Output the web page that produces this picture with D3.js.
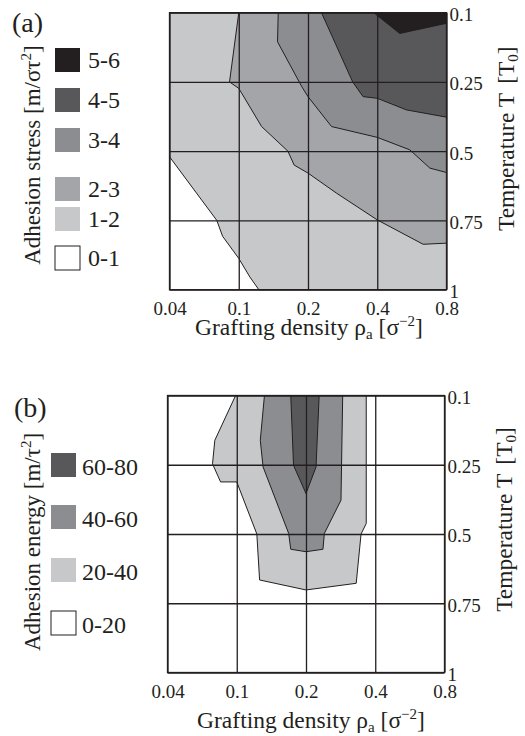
<!DOCTYPE html>
<html>
<head>
<meta charset="utf-8">
<script src="https://cdn.jsdelivr.net/npm/d3@7"></script>
<style>
  body { margin: 0; background: #fff; }
  svg { display: block; }
  text { font-family: "Liberation Serif", "Times New Roman", serif !important; fill: #231f20; }
</style>
</head>
<body>
<svg id="fig" width="525" height="736"></svg>
<script>
// axes: grafting density (bottom) and temperature (right), evenly spaced ticks
const densityValues = [0.04, 0.1, 0.2, 0.4, 0.8];
const densityTicks = ['0.04', '0.1', '0.2', '0.4', '0.8'];
const tempValues = [0.1, 0.25, 0.5, 0.75, 1];
const tempTicks = ['0.1', '0.25', '0.5', '0.75', '1'];

// (a) adhesion stress: region where stress >= level, as [rho, T] outlines
const stressLevels = ['5-6', '4-5', '3-4', '2-3', '1-2', '0-1'];
const stressAbove1 = [[0.04, 0.1], [0.8, 0.1], [0.8, 1], [0.129, 1], [0.116, 0.954], [0.1, 0.887],
  [0.086, 0.807], [0.081, 0.75], [0.04, 0.52]];
const stressAbove2 = [[0.1, 0.1], [0.092, 0.25], [0.1, 0.273], [0.133, 0.411], [0.171, 0.5], [0.18, 0.55],
  [0.2, 0.579], [0.283, 0.652], [0.4, 0.748], [0.665, 0.836], [0.8, 0.832], [0.8, 0.1]];
const stressAbove3 = [[0.157, 0.1], [0.156, 0.163], [0.191, 0.267], [0.2, 0.303], [0.268, 0.411], [0.4, 0.45],
  [0.588, 0.495], [0.704, 0.561], [0.8, 0.577], [0.8, 0.1]];
const stressAbove4 = [[0.239, 0.1], [0.329, 0.25], [0.359, 0.303], [0.4, 0.309], [0.569, 0.351], [0.8, 0.377], [0.8, 0.1]];
const stressAbove5 = [[0.39, 0.1], [0.53, 0.145], [0.8, 0.123], [0.8, 0.1]];

// (b) adhesion energy
const energyLevels = ['60-80', '40-60', '20-40', '0-20'];
const energyAbove20 = [[0.099, 0.1], [0.081, 0.197], [0.079, 0.248], [0.086, 0.312], [0.1, 0.312], [0.129, 0.5],
  [0.133, 0.666], [0.2, 0.702], [0.345, 0.678], [0.359, 0.5], [0.374, 0.462], [0.374, 0.1]];
const energyAbove40 = [[0.14, 0.1], [0.134, 0.197], [0.138, 0.258], [0.175, 0.498], [0.178, 0.555], [0.2, 0.564],
  [0.249, 0.555], [0.253, 0.498], [0.301, 0.378], [0.306, 0.1]];
const energyAbove60 = [[0.178, 0.1], [0.182, 0.252], [0.2, 0.354], [0.229, 0.258], [0.238, 0.1]];

const ink = '#231f20';
const serif = '"Liberation Serif", "Times New Roman", serif';
const grays = { l6: '#231f20', l5: '#58585a', l4: '#8c8d90', l3: '#a4a5a8', l2: '#c7c8ca', l1: '#ffffff' };

const svg = d3.select('#fig');

function drawPanel(opt) {
  const size = 277;
  const g = svg.append('g').attr('transform', `translate(${opt.left},${opt.top})`);

  const x = d3.scaleLinear().domain(densityValues).range(densityValues.map((d, i) => i * size / 4));
  const y = d3.scaleLinear().domain(tempValues).range(tempValues.map((d, i) => i * size / 4));
  const line = d3.line().x(d => x(d[0])).y(d => y(d[1]));

  g.append('rect').attr('width', size).attr('height', size).attr('fill', '#fff');

  g.selectAll('path.region')
    .data(opt.regions)
    .join('path')
    .attr('class', 'region')
    .attr('d', d => line(d.pts) + 'Z')
    .attr('fill', d => d.color)
    .attr('stroke', ink)
    .attr('stroke-width', 1)
    .attr('stroke-linejoin', 'round');

  // grid
  g.append('g')
    .attr('transform', `translate(0,${size})`)
    .call(d3.axisBottom(x).tickValues(densityValues).tickSize(-size).tickFormat(''))
    .call(a => a.select('.domain').remove())
    .selectAll('line').attr('stroke', ink).attr('stroke-width', 1.3);
  g.append('g')
    .call(d3.axisLeft(y).tickValues(tempValues).tickSize(-size).tickFormat(''))
    .call(a => a.select('.domain').remove())
    .selectAll('line').attr('stroke', ink).attr('stroke-width', 1.3);

  g.append('rect').attr('width', size).attr('height', size)
    .attr('fill', 'none').attr('stroke', ink).attr('stroke-width', 1.3);

  // tick labels
  const xa = g.append('g')
    .attr('transform', `translate(0,${size})`)
    .call(d3.axisBottom(x).tickValues(densityValues).tickSize(0).tickPadding(12)
      .tickFormat((d, i) => densityTicks[i]));
  const ya = g.append('g')
    .attr('transform', `translate(${size},0)`)
    .call(d3.axisRight(y).tickValues(tempValues).tickSize(0).tickPadding(3)
      .tickFormat((d, i) => tempTicks[i]));
  [xa, ya].forEach(a => {
    a.attr('font-family', serif).attr('font-size', 19);
    a.select('.domain').remove();
    a.selectAll('text').style('fill', ink);
  });
  ya.selectAll('text').attr('dy', '0.42em');

  // x title
  const xt = g.append('text')
    .attr('x', size / 2 + opt.xTitleShift).attr('y', size + opt.xTitleGap)
    .attr('text-anchor', 'middle').attr('font-size', 23.5);
  xt.append('tspan').text('Grafting density ρ');
  xt.append('tspan').attr('font-size', 15).attr('dy', 4).text('a');
  xt.append('tspan').attr('dy', -4).text(' [σ');
  xt.append('tspan').attr('font-size', 15).attr('dy', -9).text('−2');
  xt.append('tspan').attr('dy', 9).text(']');

  // right title
  const rt = g.append('text')
    .attr('transform', `translate(${size + 67},${opt.rightTitleY}) rotate(-90)`)
    .attr('text-anchor', 'middle').attr('font-size', 23.5);
  rt.append('tspan').text('Temperature T');
  rt.append('tspan').attr('dx', 9).text('[T');
  rt.append('tspan').attr('font-size', 15).attr('dy', 4).text('0');
  rt.append('tspan').attr('dy', -4).text(']');

  // left title
  const lt = svg.append('text')
    .attr('transform', `translate(40,${opt.leftTitleY}) rotate(-90)`)
    .attr('text-anchor', 'middle').attr('font-size', 23);
  lt.append('tspan').text(opt.leftTitle);
  lt.append('tspan').attr('font-size', 15).attr('dy', -9).text('2');
  lt.append('tspan').attr('dy', 9).text(']');

  // panel letter
  svg.append('text').attr('x', opt.letterX).attr('y', opt.letterY)
    .attr('font-size', 28).text(opt.letter);

  // legend
  const lg = svg.append('g');
  const rows = lg.selectAll('g').data(opt.legend).join('g')
    .attr('transform', (d, i) => `translate(${opt.legendX},${opt.legendRows[i]})`);
  rows.append('rect').attr('width', 25).attr('height', 24)
    .attr('fill', d => d.color)
    .attr('stroke', d => d.color === '#ffffff' ? ink : 'none').attr('stroke-width', 1);
  rows.append('text').attr('x', opt.legendGap).attr('y', opt.legendBase)
    .attr('font-size', 24).text(d => d.label);
}

const stressColors = [grays.l6, grays.l5, grays.l4, grays.l3, grays.l2, grays.l1];
drawPanel({
  left: 169.5, top: 12.7,
  regions: [
    { pts: stressAbove1, color: grays.l2 },
    { pts: stressAbove2, color: grays.l3 },
    { pts: stressAbove3, color: grays.l4 },
    { pts: stressAbove4, color: grays.l5 },
    { pts: stressAbove5, color: grays.l6 }
  ],
  legend: stressLevels.map((l, i) => ({ label: l, color: stressColors[i] })),
  legendRows: [48, 88, 128, 177, 207, 246],
  legendX: 55, legendGap: 33, legendBase: 20,
  leftTitle: 'Adhesion stress [m/στ', leftTitleY: 155,
  rightTitleY: 126,
  xTitleGap: 45, xTitleShift: 1,
  letter: '(a)', letterX: 12, letterY: 32
});

const energyColors = [grays.l5, grays.l4, grays.l2, grays.l1];
drawPanel({
  left: 167.5, top: 395.5,
  regions: [
    { pts: energyAbove20, color: grays.l2 },
    { pts: energyAbove40, color: grays.l4 },
    { pts: energyAbove60, color: grays.l5 }
  ],
  legend: energyLevels.map((l, i) => ({ label: l, color: energyColors[i] })),
  legendRows: [453, 505, 558, 611],
  legendX: 51, legendGap: 31, legendBase: 22,
  leftTitle: 'Adhesion energy [m/τ', leftTitleY: 542,
  rightTitleY: 124,
  xTitleGap: 55, xTitleShift: 5,
  letter: '(b)', letterX: 14, letterY: 417
});
</script>
</body>
</html>
